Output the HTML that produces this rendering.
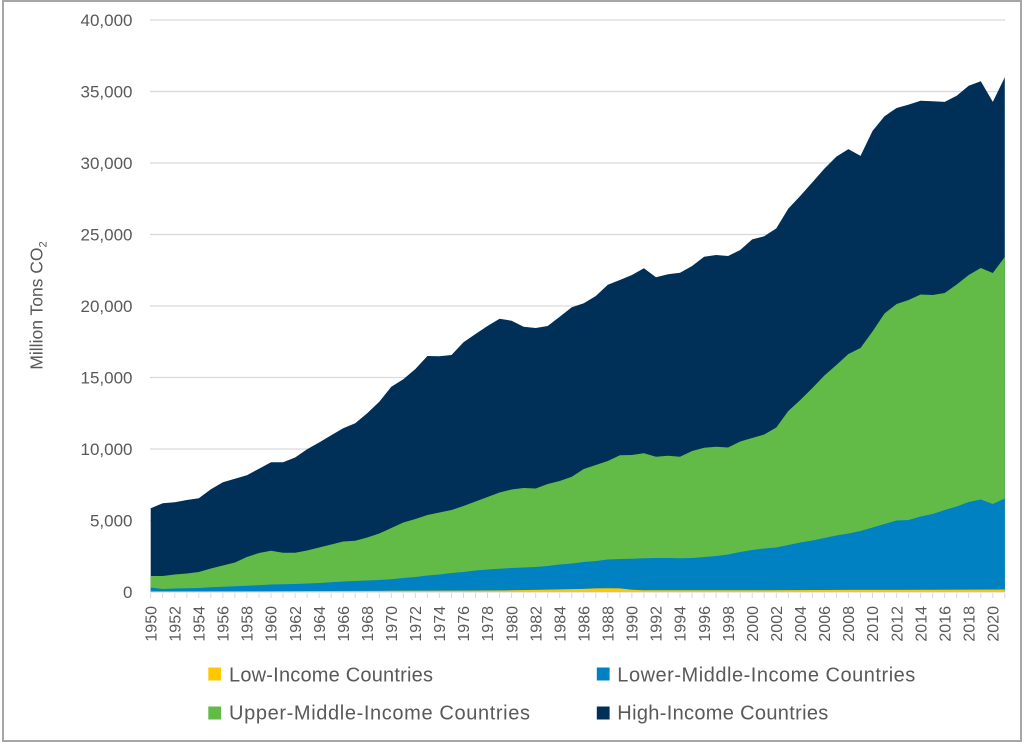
<!DOCTYPE html>
<html><head><meta charset="utf-8"><style>
html,body{margin:0;padding:0;background:#fff;}
body{width:1024px;height:743px;position:relative;overflow:hidden;font-family:"Liberation Sans",sans-serif;}
.frame{position:absolute;left:2px;top:0;width:1016px;height:738px;border:2px solid #a6a6a6;}
svg{position:absolute;left:0;top:0;}
</style></head><body>
<div class="frame"></div>
<svg width="1024" height="743" viewBox="0 0 1024 743" xmlns="http://www.w3.org/2000/svg" font-family="Liberation Sans, sans-serif">
<g stroke="#d9d9d9" stroke-width="1.3">
<line x1="150" y1="20" x2="1005" y2="20"/>
<line x1="150" y1="91.5" x2="1005" y2="91.5"/>
<line x1="150" y1="163" x2="1005" y2="163"/>
<line x1="150" y1="234.5" x2="1005" y2="234.5"/>
<line x1="150" y1="306" x2="1005" y2="306"/>
<line x1="150" y1="377.5" x2="1005" y2="377.5"/>
<line x1="150" y1="449" x2="1005" y2="449"/>
<line x1="150" y1="520.5" x2="1005" y2="520.5"/>
<line x1="150" y1="592" x2="1005" y2="592"/>
</g>
<g fill="#595959" font-size="17" text-anchor="end">
<text x="132.5" y="26">40,000</text>
<text x="132.5" y="97.5">35,000</text>
<text x="132.5" y="169">30,000</text>
<text x="132.5" y="240.5">25,000</text>
<text x="132.5" y="312">20,000</text>
<text x="132.5" y="383.5">15,000</text>
<text x="132.5" y="455">10,000</text>
<text x="132.5" y="526.5">5,000</text>
<text x="132.5" y="598">0</text>
</g>
<text transform="translate(42.5,305.5) rotate(-90)" text-anchor="middle" fill="#595959" font-size="17.5">Million Tons CO<tspan font-size="11" dy="4">2</tspan></text>

<polygon fill="#003057" points="150.7,508.3 162.7,503.3 174.8,502.3 186.8,500 198.8,498.3 210.9,489.3 222.9,482.3 234.9,478.7 246.9,475.3 259,468.7 271,462.2 283,462.3 295.1,457.5 307.1,449.3 319.1,442.5 331.2,435.3 343.2,428.3 355.2,423.3 367.2,413.3 379.3,401.7 391.3,386.7 403.3,379.3 415.4,369 427.4,356 439.4,356.3 451.5,355 463.5,342.3 475.5,334 487.5,326 499.6,318.7 511.6,320.7 523.6,326.7 535.7,328 547.7,326 559.7,316.7 571.8,307.3 583.8,303.3 595.8,296 607.8,284.7 619.9,280 631.9,275 643.9,268.3 656,277.3 668,274.3 680,272.7 692.1,266 704.1,256.7 716.1,255 728.1,256 740.2,250 752.2,239.4 764.2,236.3 776.3,228.4 788.3,208.6 800.3,195.9 812.4,182.3 824.4,168.6 836.4,156.6 848.4,149.1 860.5,155.9 872.5,131 884.5,116.2 896.6,108 908.6,104.6 920.6,100.8 932.7,101.2 944.7,101.9 956.7,95.7 968.7,85.8 980.8,81.3 992.8,101.9 1004.8,77.2 1004.8,592 150.7,592"/>

<polygon fill="#62bb46" points="150.7,576 162.7,576 174.8,574.5 186.8,573.5 198.8,572 210.9,568.5 222.9,565.5 234.9,562.5 246.9,557 259,553 271,550.7 283,552.7 295.1,552.7 307.1,550.5 319.1,547.5 331.2,544.5 343.2,541.5 355.2,540.7 367.2,537.5 379.3,533.5 391.3,528 403.3,522.5 415.4,519 427.4,515 439.4,512.5 451.5,510 463.5,506 475.5,501.5 487.5,497 499.6,492.5 511.6,489.5 523.6,488 535.7,488.5 547.7,484 559.7,481 571.8,476.7 583.8,469 595.8,465 607.8,461 619.9,455.3 631.9,455 643.9,453.3 656,456.7 668,455.7 680,456.7 692.1,451 704.1,447.7 716.1,446.7 728.1,447.5 740.2,441.5 752.2,438 764.2,434.5 776.3,427.5 788.3,411 800.3,400 812.4,388 824.4,375.5 836.4,365 848.4,354 860.5,348 872.5,331.5 884.5,313.5 896.6,304 908.6,300 920.6,294.5 932.7,295 944.7,293 956.7,284.5 968.7,275 980.8,268 992.8,273 1004.8,257 1004.8,592 150.7,592"/>

<polygon fill="#0081c2" points="150.7,587.5 162.7,589 174.8,588.5 186.8,588.3 198.8,588 210.9,587.3 222.9,586.7 234.9,586.2 246.9,585.7 259,585.2 271,584.5 283,584.2 295.1,584 307.1,583.5 319.1,583 331.2,582.3 343.2,581.5 355.2,581 367.2,580.5 379.3,580 391.3,579.3 403.3,578 415.4,577 427.4,575.5 439.4,574.5 451.5,573 463.5,572 475.5,570.5 487.5,569.5 499.6,568.7 511.6,568 523.6,567.5 535.7,567 547.7,566 559.7,564.5 571.8,563.5 583.8,562 595.8,561 607.8,559.5 619.9,559 631.9,558.7 643.9,558.3 656,558 668,558 680,558.3 692.1,558 704.1,557 716.1,556 728.1,554.5 740.2,552 752.2,550 764.2,548.5 776.3,547.5 788.3,545 800.3,542.5 812.4,540.5 824.4,538 836.4,535.5 848.4,533.5 860.5,531 872.5,527.5 884.5,524 896.6,520.5 908.6,520 920.6,516.5 932.7,514 944.7,510 956.7,506.5 968.7,502 980.8,499.5 992.8,504 1004.8,498.5 1004.8,592 150.7,592"/>

<polygon fill="#ffc700" points="150.7,591.4 259,591.3 331.2,591 391.3,590.8 463.5,590.6 511.6,590.3 535.7,589.9 559.7,589.4 583.8,588.9 595.8,588.4 607.8,588.3 619.9,588.4 631.9,589.8 643.9,590.2 704.1,590.3 764.2,590.2 848.4,589.9 932.7,589.8 1004.8,589.5 1004.8,592 150.7,592"/>

<g stroke="#d9d9d9" stroke-width="1">
<line x1="150.7" y1="593" x2="150.7" y2="598"/><line x1="162.7" y1="593" x2="162.7" y2="598"/><line x1="174.8" y1="593" x2="174.8" y2="598"/><line x1="186.8" y1="593" x2="186.8" y2="598"/><line x1="198.8" y1="593" x2="198.8" y2="598"/><line x1="210.9" y1="593" x2="210.9" y2="598"/><line x1="222.9" y1="593" x2="222.9" y2="598"/><line x1="234.9" y1="593" x2="234.9" y2="598"/><line x1="246.9" y1="593" x2="246.9" y2="598"/><line x1="259" y1="593" x2="259" y2="598"/><line x1="271" y1="593" x2="271" y2="598"/><line x1="283" y1="593" x2="283" y2="598"/><line x1="295.1" y1="593" x2="295.1" y2="598"/><line x1="307.1" y1="593" x2="307.1" y2="598"/><line x1="319.1" y1="593" x2="319.1" y2="598"/><line x1="331.2" y1="593" x2="331.2" y2="598"/><line x1="343.2" y1="593" x2="343.2" y2="598"/><line x1="355.2" y1="593" x2="355.2" y2="598"/><line x1="367.2" y1="593" x2="367.2" y2="598"/><line x1="379.3" y1="593" x2="379.3" y2="598"/><line x1="391.3" y1="593" x2="391.3" y2="598"/><line x1="403.3" y1="593" x2="403.3" y2="598"/><line x1="415.4" y1="593" x2="415.4" y2="598"/><line x1="427.4" y1="593" x2="427.4" y2="598"/><line x1="439.4" y1="593" x2="439.4" y2="598"/><line x1="451.5" y1="593" x2="451.5" y2="598"/><line x1="463.5" y1="593" x2="463.5" y2="598"/><line x1="475.5" y1="593" x2="475.5" y2="598"/><line x1="487.5" y1="593" x2="487.5" y2="598"/><line x1="499.6" y1="593" x2="499.6" y2="598"/><line x1="511.6" y1="593" x2="511.6" y2="598"/><line x1="523.6" y1="593" x2="523.6" y2="598"/><line x1="535.7" y1="593" x2="535.7" y2="598"/><line x1="547.7" y1="593" x2="547.7" y2="598"/><line x1="559.7" y1="593" x2="559.7" y2="598"/><line x1="571.8" y1="593" x2="571.8" y2="598"/><line x1="583.8" y1="593" x2="583.8" y2="598"/><line x1="595.8" y1="593" x2="595.8" y2="598"/><line x1="607.8" y1="593" x2="607.8" y2="598"/><line x1="619.9" y1="593" x2="619.9" y2="598"/><line x1="631.9" y1="593" x2="631.9" y2="598"/><line x1="643.9" y1="593" x2="643.9" y2="598"/><line x1="656" y1="593" x2="656" y2="598"/><line x1="668" y1="593" x2="668" y2="598"/><line x1="680" y1="593" x2="680" y2="598"/><line x1="692.1" y1="593" x2="692.1" y2="598"/><line x1="704.1" y1="593" x2="704.1" y2="598"/><line x1="716.1" y1="593" x2="716.1" y2="598"/><line x1="728.1" y1="593" x2="728.1" y2="598"/><line x1="740.2" y1="593" x2="740.2" y2="598"/><line x1="752.2" y1="593" x2="752.2" y2="598"/><line x1="764.2" y1="593" x2="764.2" y2="598"/><line x1="776.3" y1="593" x2="776.3" y2="598"/><line x1="788.3" y1="593" x2="788.3" y2="598"/><line x1="800.3" y1="593" x2="800.3" y2="598"/><line x1="812.4" y1="593" x2="812.4" y2="598"/><line x1="824.4" y1="593" x2="824.4" y2="598"/><line x1="836.4" y1="593" x2="836.4" y2="598"/><line x1="848.4" y1="593" x2="848.4" y2="598"/><line x1="860.5" y1="593" x2="860.5" y2="598"/><line x1="872.5" y1="593" x2="872.5" y2="598"/><line x1="884.5" y1="593" x2="884.5" y2="598"/><line x1="896.6" y1="593" x2="896.6" y2="598"/><line x1="908.6" y1="593" x2="908.6" y2="598"/><line x1="920.6" y1="593" x2="920.6" y2="598"/><line x1="932.7" y1="593" x2="932.7" y2="598"/><line x1="944.7" y1="593" x2="944.7" y2="598"/><line x1="956.7" y1="593" x2="956.7" y2="598"/><line x1="968.7" y1="593" x2="968.7" y2="598"/><line x1="980.8" y1="593" x2="980.8" y2="598"/><line x1="992.8" y1="593" x2="992.8" y2="598"/><line x1="1004.8" y1="593" x2="1004.8" y2="598"/>
</g>

<g fill="#595959" font-size="16" text-anchor="end">
<text transform="translate(156.4,606) rotate(-90)">1950</text>
<text transform="translate(180.5,606) rotate(-90)">1952</text>
<text transform="translate(204.5,606) rotate(-90)">1954</text>
<text transform="translate(228.6,606) rotate(-90)">1956</text>
<text transform="translate(252.6,606) rotate(-90)">1958</text>
<text transform="translate(276.7,606) rotate(-90)">1960</text>
<text transform="translate(300.8,606) rotate(-90)">1962</text>
<text transform="translate(324.8,606) rotate(-90)">1964</text>
<text transform="translate(348.9,606) rotate(-90)">1966</text>
<text transform="translate(372.9,606) rotate(-90)">1968</text>
<text transform="translate(397,606) rotate(-90)">1970</text>
<text transform="translate(421.1,606) rotate(-90)">1972</text>
<text transform="translate(445.1,606) rotate(-90)">1974</text>
<text transform="translate(469.2,606) rotate(-90)">1976</text>
<text transform="translate(493.2,606) rotate(-90)">1978</text>
<text transform="translate(517.3,606) rotate(-90)">1980</text>
<text transform="translate(541.4,606) rotate(-90)">1982</text>
<text transform="translate(565.4,606) rotate(-90)">1984</text>
<text transform="translate(589.5,606) rotate(-90)">1986</text>
<text transform="translate(613.5,606) rotate(-90)">1988</text>
<text transform="translate(637.6,606) rotate(-90)">1990</text>
<text transform="translate(661.7,606) rotate(-90)">1992</text>
<text transform="translate(685.7,606) rotate(-90)">1994</text>
<text transform="translate(709.8,606) rotate(-90)">1996</text>
<text transform="translate(733.8,606) rotate(-90)">1998</text>
<text transform="translate(757.9,606) rotate(-90)">2000</text>
<text transform="translate(782,606) rotate(-90)">2002</text>
<text transform="translate(806,606) rotate(-90)">2004</text>
<text transform="translate(830.1,606) rotate(-90)">2006</text>
<text transform="translate(854.1,606) rotate(-90)">2008</text>
<text transform="translate(878.2,606) rotate(-90)">2010</text>
<text transform="translate(902.3,606) rotate(-90)">2012</text>
<text transform="translate(926.3,606) rotate(-90)">2014</text>
<text transform="translate(950.4,606) rotate(-90)">2016</text>
<text transform="translate(974.4,606) rotate(-90)">2018</text>
<text transform="translate(998.5,606) rotate(-90)">2020</text>
</g>

<rect x="208.3" y="667.5" width="12.8" height="13" fill="#ffc700"/>
<text x="229" y="681.7" font-size="20" fill="#595959" textLength="204" lengthAdjust="spacing">Low-Income Countries</text>
<rect x="596.8" y="667.5" width="12.8" height="13" fill="#0081c2"/>
<text x="617.3" y="681.7" font-size="20" fill="#595959" textLength="298" lengthAdjust="spacing">Lower-Middle-Income Countries</text>
<rect x="208.3" y="706.5" width="12.8" height="13" fill="#62bb46"/>
<text x="229" y="719.5" font-size="20" fill="#595959" textLength="301" lengthAdjust="spacing">Upper-Middle-Income Countries</text>
<rect x="596.8" y="706.5" width="12.8" height="13" fill="#003057"/>
<text x="617.3" y="719.5" font-size="20" fill="#595959" textLength="211" lengthAdjust="spacing">High-Income Countries</text>
</svg>
</body></html>
